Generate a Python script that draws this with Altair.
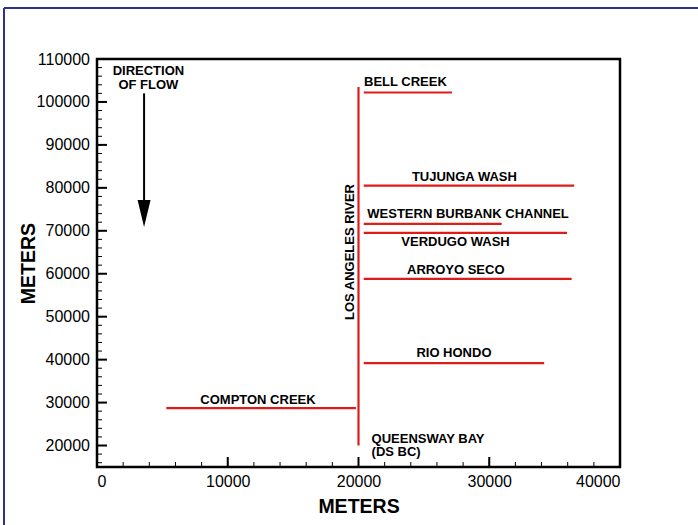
import altair as alt
import pandas as pd

FONT = "Liberation Sans"
RED = "#DD1C1A"

# Main stem: Los Angeles River
river_x = [20000]
river_y0 = [20000]
river_y1 = [103500]

# Tributaries joining the river
trib_names = ["BELL CREEK", "TUJUNGA WASH", "WESTERN BURBANK CHANNEL", "VERDUGO WASH",
              "ARROYO SECO", "RIO HONDO", "COMPTON CREEK"]
trib_x0 = [20400, 20400, 20400, 20400, 20400, 20400, 5300]
trib_x1 = [27150, 36500, 30950, 35950, 36300, 34200, 19800]
trib_y = [102200, 80500, 71600, 69500, 58800, 39200, 28700]

# Label anchor points (centered labels)
label_text = ["TUJUNGA WASH", "WESTERN BURBANK CHANNEL", "VERDUGO WASH", "ARROYO SECO",
              "RIO HONDO", "COMPTON CREEK", "DIRECTION", "OF FLOW"]
label_x = [28100, 28380, 27420, 27440, 27300, 12310, 3930, 3930]
label_y = [82500, 73800, 67300, 60950, 41650, 30550, 107200, 103950]

# Left-aligned labels
left_text = ["BELL CREEK", "QUEENSWAY BAY", "(DS BC)"]
left_x = [20420, 21000, 21000]
left_y = [104650, 21550, 18400]

# Vertical river name
river_label = ["LOS ANGELES RIVER"]
river_label_x = [19350]
river_label_y = [65050]

# Flow-direction arrow
arrow_x = [3600]
arrow_y0 = [102000]
arrow_y1 = [76500]
arrow_head_y = [74000]

# Axis ticks
x_major = [0, 10000, 20000, 30000, 40000]
x_minor = list(range(0, 40001, 2000))
y_major = list(range(20000, 110001, 10000))
y_minor = list(range(16000, 110001, 2000))

W, H = 523, 408
xs = alt.Scale(domain=[0, 40000], nice=False, zero=False)
ys = alt.Scale(domain=[15000, 110000], nice=False, zero=False)

river_df = pd.DataFrame({"x": river_x, "y0": river_y0, "y1": river_y1})
trib_df = pd.DataFrame({"name": trib_names, "x0": trib_x0, "x1": trib_x1, "y": trib_y})
lab_df = pd.DataFrame({"t": label_text, "x": label_x, "y": label_y})
left_df = pd.DataFrame({"t": left_text, "x": left_x, "y": left_y})
rlab_df = pd.DataFrame({"t": river_label, "x": river_label_x, "y": river_label_y})
arrow_df = pd.DataFrame({"x": arrow_x, "y0": arrow_y0, "y1": arrow_y1, "yh": arrow_head_y})

x_axis = alt.Axis(values=x_major, format="d", ticks=False, domain=False, grid=False,
                  labelFont=FONT, labelFontSize=16, labelColor="black", labelPadding=6,
                  title="METERS", titleFont=FONT, titleFontSize=19.5, titleFontWeight="bold",
                  titleColor="black", titlePadding=8)
y_axis = alt.Axis(values=y_major, format="d", ticks=False, domain=False, grid=False,
                  labelFont=FONT, labelFontSize=16, labelColor="black", labelPadding=7.5,
                  title="METERS", titleFont=FONT, titleFontSize=19.5, titleFontWeight="bold",
                  titleColor="black", titlePadding=-2)

base_axes = alt.Chart(river_df).mark_rule(color=RED, strokeWidth=2.2).encode(
    x=alt.X("x:Q", scale=xs, axis=x_axis),
    y=alt.Y("y0:Q", scale=ys, axis=y_axis),
    y2="y1:Q",
)

tribs = alt.Chart(trib_df).mark_rule(color=RED, strokeWidth=2.2).encode(
    x=alt.X("x0:Q", scale=xs), x2="x1:Q", y=alt.Y("y:Q", scale=ys)
)

txt_kw = dict(font=FONT, fontSize=13, fontWeight="bold", color="black", baseline="middle")
labels = alt.Chart(lab_df).mark_text(align="center", **txt_kw).encode(
    x=alt.X("x:Q", scale=xs), y=alt.Y("y:Q", scale=ys), text="t:N")
left_labels = alt.Chart(left_df).mark_text(align="left", **txt_kw).encode(
    x=alt.X("x:Q", scale=xs), y=alt.Y("y:Q", scale=ys), text="t:N")
river_text = alt.Chart(rlab_df).mark_text(align="center", angle=270, **txt_kw).encode(
    x=alt.X("x:Q", scale=xs), y=alt.Y("y:Q", scale=ys), text="t:N")

shaft = alt.Chart(arrow_df).mark_rule(color="black", strokeWidth=2).encode(
    x=alt.X("x:Q", scale=xs), y=alt.Y("y0:Q", scale=ys), y2="y1:Q")
head = alt.Chart(arrow_df).mark_point(
    shape="M-0.48,-1L0.48,-1L0,1Z", size=729, filled=True, color="black", opacity=1
).encode(x=alt.X("x:Q", scale=xs), y=alt.Y("yh:Q", scale=ys))

# Inward-pointing ticks along the bottom and left edges
xt_major = alt.Chart(pd.DataFrame({"v": x_major})).mark_rule(color="black", strokeWidth=2).encode(
    x=alt.X("v:Q", scale=xs), y=alt.value(H), y2=alt.value(H - 10))
xt_minor = alt.Chart(pd.DataFrame({"v": x_minor})).mark_rule(color="black", strokeWidth=1).encode(
    x=alt.X("v:Q", scale=xs), y=alt.value(H), y2=alt.value(H - 5))
yt_major = alt.Chart(pd.DataFrame({"v": y_major})).mark_rule(color="black", strokeWidth=2).encode(
    y=alt.Y("v:Q", scale=ys), x=alt.value(0), x2=alt.value(10))
yt_minor = alt.Chart(pd.DataFrame({"v": y_minor})).mark_rule(color="black", strokeWidth=1).encode(
    y=alt.Y("v:Q", scale=ys), x=alt.value(0), x2=alt.value(5))

# Blue page frame on the top and left edges
frame_left = alt.Chart(river_df).mark_rule(color="#2E3192", strokeWidth=2).encode(
    x=alt.value(-93), y=alt.value(-51), y2=alt.value(470))
frame_top = alt.Chart(river_df).mark_rule(color="#2E3192", strokeWidth=2).encode(
    x=alt.value(-93), x2=alt.value(610), y=alt.value(-51))

chart = alt.layer(
    base_axes, tribs, labels, left_labels, river_text, shaft, head,
    xt_major, xt_minor, yt_major, yt_minor, frame_left, frame_top,
).properties(
    width=W, height=H,
    autosize=alt.AutoSizeParams(type="none"),
    padding={"left": 97, "top": 59, "right": 78, "bottom": 58},
    background="white",
).configure_view(stroke="black", strokeWidth=2.5)

chart.save("out.html", embed_options={"renderer": "svg", "actions": False})
